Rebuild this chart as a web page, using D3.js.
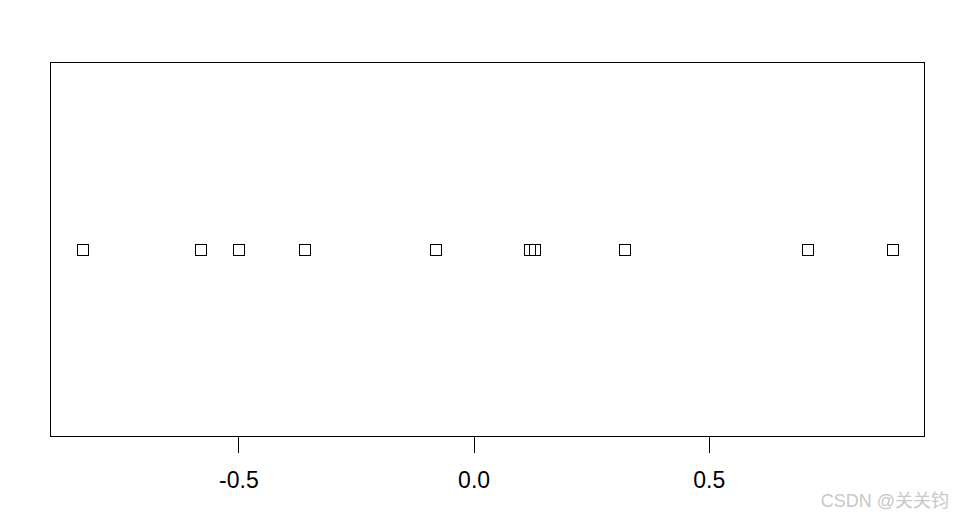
<!DOCTYPE html>
<html><head><meta charset="utf-8">
<script src="https://cdn.jsdelivr.net/npm/d3@7"></script>
<style>body{margin:0;background:#fff;} svg{display:block;}</style>
</head><body>
<svg id="c" width="955" height="516"></svg>
<script>
const values = [-0.8307, -0.5805, -0.4998, -0.3589, -0.0801, 0.1196, 0.1303, 0.3204, 0.7110, 0.8899];
const tickValues = [-0.5, 0.0, 0.5];
const tickLabels = ["-0.5", "0.0", "0.5"];

(function () {
const svg = d3.select("#c");
const mLeft = 50.5, mRight = 924.5, mTop = 62.5, mBottom = 436.5;
const [mn, mx] = d3.extent(values);
const pad = (mx - mn) * 0.04;
const x = d3.scaleLinear().domain([mn - pad, mx + pad]).range([mLeft, mRight]);
const y = d3.scaleLinear().domain([0.6, 1.4]).range([mBottom, mTop]);

svg.append("rect").attr("x", mLeft).attr("y", mTop)
  .attr("width", mRight - mLeft).attr("height", mBottom - mTop)
  .attr("fill", "none").attr("stroke", "#000").attr("stroke-width", 1);

const axis = d3.axisBottom(x).tickValues(tickValues)
  .tickFormat((d, i) => tickLabels[i]).tickSize(16).tickPadding(19);
const g = svg.append("g").attr("transform", `translate(0,${mBottom})`).call(axis);
g.select(".domain").remove();
g.selectAll("line").attr("stroke", "#000").attr("shape-rendering", "crispEdges");
g.selectAll("text").attr("font-family", "Liberation Sans, Arial, sans-serif")
  .attr("font-size", 23).attr("fill", "#000");

const s = 11;
svg.selectAll("rect.pt").data(values).enter().append("rect")
  .attr("class", "pt")
  .attr("x", d => Math.round(x(d) - s / 2) + 0.5)
  .attr("y", Math.round(y(1) - s / 2) + 0.5)
  .attr("width", s).attr("height", s)
  .attr("fill", "none").attr("stroke", "#000").attr("stroke-width", 1);

svg.append("text").attr("x", 949).attr("y", 507).attr("text-anchor", "end")
  .attr("font-family", "Liberation Sans, Noto Sans CJK SC, sans-serif").attr("font-size", 18)
  .attr("fill", "#c8c8c8").text("CSDN @关关钧");
})();
</script>
</body></html>
